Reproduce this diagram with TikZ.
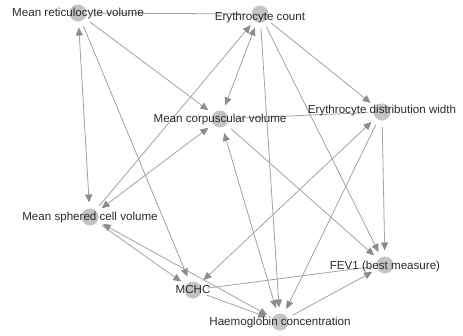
\documentclass[tikz,border=0pt]{standalone}
\usepackage{fontspec}
\setmainfont{Liberation Sans}
\usepackage{tikz}
\usetikzlibrary{arrows.meta, positioning, backgrounds}

\definecolor{vtxgray}{HTML}{C4C4C4}
\definecolor{linkgray}{HTML}{A2A2A2}
\definecolor{tipgray}{HTML}{8C8C8C}
\definecolor{txtgray}{HTML}{2A2A2A}

\tikzset{
  vtx/.style={circle, fill=vtxgray, draw=none, minimum size=17pt, inner sep=0pt, outer sep=6pt},
  lbl/.style={text=txtgray, font=\fontsize{11.6}{13}\selectfont, inner sep=0pt},
  link/.style={draw=linkgray, line width=0.8pt},
  >={Triangle[length=8pt,width=7pt,color=tipgray]}
}

\begin{document}
\begin{tikzpicture}[x=1pt, y=-1pt]
      \useasboundingbox (0,0) rectangle (463,335);

      \node[vtx] (mrv)  at (78,13)   {};
      \node[vtx] (ec)   at (260,14)  {};
      \node[vtx] (mcv)  at (220,119) {};
      \node[vtx] (edw)  at (382,112) {};
      \node[vtx] (mscv) at (90,217)  {};
      \node[vtx] (mchc) at (193,290) {};
      \node[vtx] (fev)  at (385,265) {};
      \node[vtx] (hc)   at (280,322) {};

      \node[lbl] at (mrv)  {Mean reticulocyte volume};
      \node[lbl] at ([yshift=-3pt]ec) {Erythrocyte count};
      \node[lbl] at (mcv)  {Mean corpuscular volume};
      \node[lbl] at ([yshift=2pt]edw) {Erythrocyte distribution width};
      \node[lbl] at (mscv) {Mean sphered cell volume};
      \node[lbl] at (mchc) {MCHC};
      \node[lbl] at ([yshift=-1pt]fev) {FEV1 (best measure)};
      \node[lbl] at (hc)   {Haemoglobin concentration};

      \begin{scope}[on background layer]
      \path[link, ->]
        (mrv)  edge [-]   (ec)
               edge       (mcv)
               edge [<->] (mscv)
               edge       (mchc)
        (ec)   edge [<->] (mcv)
               edge       (edw)
               edge       (hc)
               edge       (fev)
        (mscv) edge       (ec)
               edge [<->] (mcv)
               edge       (mchc)
               edge [<->] (hc)
        (mcv)  edge [-]   (edw)
               edge [<->] (hc)
               edge       (fev)
        (edw)  edge       (fev)
               edge       (hc)
               edge [<->] (mchc)
        (mchc) edge       (hc)
               edge [-]   (fev)
        (hc)   edge       (fev);
      \end{scope}
    \end{tikzpicture}
\end{document}
